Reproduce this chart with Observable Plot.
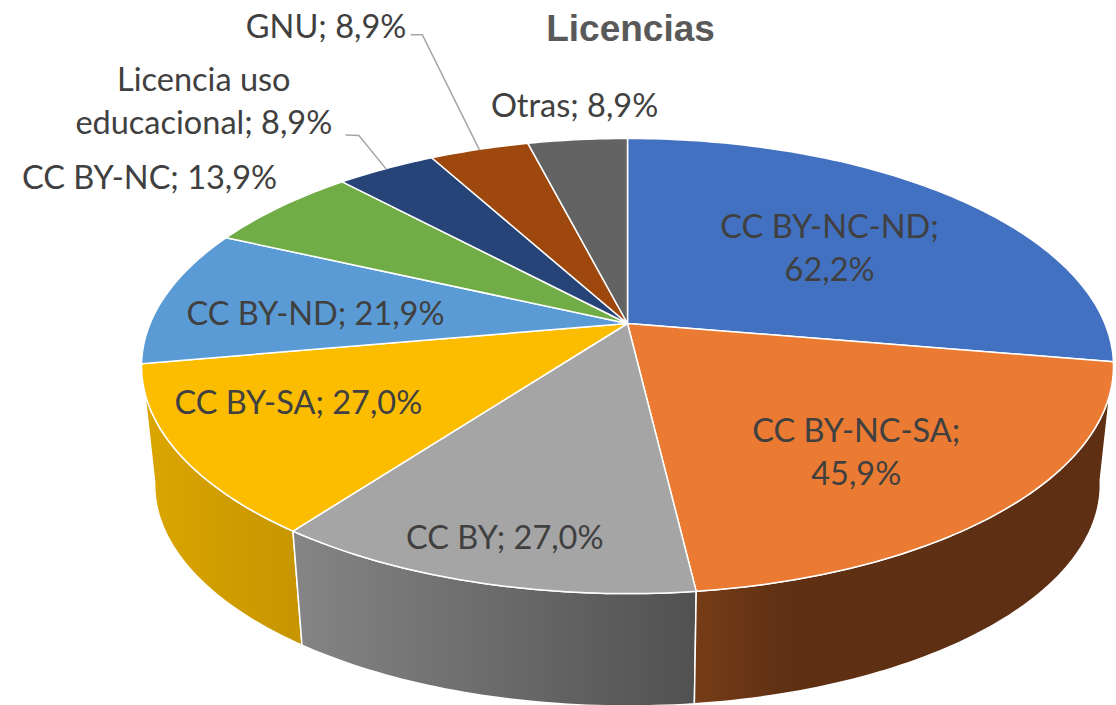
<!DOCTYPE html>
<html><head><meta charset="utf-8">
<style>html,body{margin:0;padding:0;background:#fff;overflow:hidden}svg{display:block}</style>
<script src="https://cdn.jsdelivr.net/npm/d3@7"></script>
<script src="https://cdn.jsdelivr.net/npm/@observablehq/plot@0.6"></script>
</head><body>
<script>
const categories = ["CC BY-NC-ND","CC BY-NC-SA","CC BY","CC BY-SA","CC BY-ND","CC BY-NC","Licencia uso educacional","GNU","Otras"];
const values = [62.2,45.9,27.0,27.0,21.9,13.9,8.9,8.9,8.9];
const labels = ["CC BY-NC-ND;\n62,2%","CC BY-NC-SA;\n45,9%","CC BY; 27,0%","CC BY-SA; 27,0%","CC BY-ND; 21,9%","CC BY-NC; 13,9%","Licencia uso\neducacional; 8,9%","GNU; 8,9%","Otras; 8,9%"];
const colors = ["#4371c1","#eb7b32","#a5a5a5","#fcbd00","#5b9bd5","#70ad47","#264478","#9e480e","#636363"];
// label placement: bearing (deg clockwise from 12 o'clock) and radius on the pie plane
const labelBearing = [51.1,140.8,194.7,242.4,273.6,303.4,318.7,334.9,353.6];
const labelRadius = [0.581,0.683,0.856,0.729,0.660,1.368,1.658,1.99,1.22];
// leader lines: [bearing, radius] of start and elbow; they end on the slice's mid arc
const leaders = {6:[[325.5,1.24],[326.7,1.22]], 7:[[341,1.845],[341.9,1.835]]};
// side wall shading per slice index
const wallStops = {
  1:[["0%","#763c17"],["22%","#603013"],["100%","#5e2f13"]],
  2:[["0%","#858585"],["100%","#515151"]],
  3:[["0%","#dba600"],["100%","#c69500"]]
};

const K = 0.187;                     // perspective strength of the pie plane
const WALL_SCALE = 0.973, WALL_DROP = 0.545;
const W = 1116, H = 705;
const PX = 477.4, PY = 219.6, CX = 627, CY = 323;
const rad = d => d * Math.PI / 180;
const project = (bearing, r = 1) => {
  const u = r * Math.sin(rad(bearing)), v = r * Math.cos(rad(bearing)), q = 1 + K * v;
  return {x: u / q, y: v / q};
};
const lower = p => ({x: p.x * WALL_SCALE, y: p.y * WALL_SCALE - WALL_DROP});

const total = d3.sum(values);
const cum = d3.cumsum(values);
const slices = values.map((v, i) => ({i, a0: (i ? cum[i - 1] : 0) / total * 360, a1: cum[i] / total * 360}));
const arc = (s, step = 1) => {
  const n = Math.ceil((s.a1 - s.a0) / step);
  return d3.range(n + 1).map(j => project(s.a0 + (s.a1 - s.a0) * j / n));
};
const slicePath = s => { const o = {x: 0, y: 0}; return [o, ...arc(s), o]; };
const wallPath = s => { const t = arc(s); const b = t.map(lower).reverse(); return [...t, ...b, t[0]]; };

const defs = () => {
  const d = d3.create("svg:defs");
  for (const [k, stops] of Object.entries(wallStops)) {
    const g = d.append("linearGradient").attr("id", "wall" + k);
    for (const [o, c] of stops) g.append("stop").attr("offset", o).attr("stop-color", c);
  }
  return d.node();
};

const labelData = slices.map(s => ({...project(labelBearing[s.i], labelRadius[s.i]), text: labels[s.i]}));
const leaderLines = Object.entries(leaders).map(([k, pts]) => {
  const s = slices[k];
  return [...pts.map(([b, r]) => project(b, r)), project((s.a0 + s.a1) / 2)];
});

const chart = Plot.plot({
  width: W, height: H, margin: 0,
  x: {axis: null, domain: [-CX / PX, (W - CX) / PX], range: [0, W]},
  y: {axis: null, domain: [CY / PY, (CY - H) / PY], range: [0, H]},
  marks: [
    defs,
    ...[3, 2, 1].map(i => Plot.line(wallPath(slices[i]), {x: "x", y: "y", fill: `url(#wall${i})`, stroke: "#fff", strokeWidth: 1.5, strokeLinejoin: "round"})),
    ...slices.map(s => Plot.line(slicePath(s), {x: "x", y: "y", fill: colors[s.i], stroke: "#fff", strokeWidth: 1.5, strokeLinejoin: "round"})),
    ...leaderLines.map(l => Plot.line(l, {x: "x", y: "y", stroke: "#a6a6a6", strokeWidth: 1.5})),
    Plot.text(labelData, {x: "x", y: "y", text: "text", fill: "#404040", fontSize: 32.5, fontFamily: "Lato", lineHeight: 1.33, textAnchor: "middle", dy: -3}),
    Plot.text(["Licencias"], {frameAnchor: "top", dx: 72, dy: 14, fontSize: 37, fontWeight: "bold", fontFamily: "Liberation Sans", fill: "#595959"})
  ]
});
document.body.append(chart);
</script>
</body></html>
